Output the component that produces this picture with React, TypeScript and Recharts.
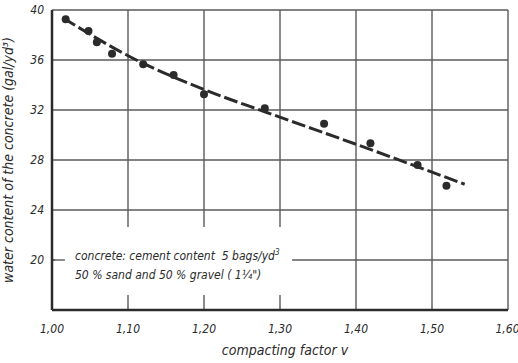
import {
  ComposedChart,
  XAxis,
  YAxis,
  CartesianGrid,
  Scatter,
  Line,
  ReferenceArea,
  ReferenceLine,
} from "recharts";

// measured points
const compactingFactor = [1.018, 1.048, 1.059, 1.079, 1.12, 1.16, 1.2, 1.28, 1.358, 1.419, 1.481, 1.519];
const waterContent = [39.26, 38.32, 37.42, 36.5, 35.66, 34.8, 33.26, 32.14, 30.9, 29.34, 27.6, 25.94];

// fitted curve
const fitFactor = [1.0145, 1.111, 1.2, 1.28, 1.405, 1.543];
const fitWater = [39.36, 36.0, 33.64, 31.86, 29.15, 26.06];

const xTicks = [1.0, 1.1, 1.2, 1.3, 1.4, 1.5, 1.6];
const yTicks = [20, 24, 28, 32, 36, 40];

const points = compactingFactor.map((v, i) => ({ v, w: waterContent[i] }));
const fit = fitFactor.map((v, i) => ({ v, w: fitWater[i] }));

const FONT = "'Liberation Sans Narrow', 'DejaVu Sans Condensed', 'DejaVu Sans', sans-serif";
const INK = "#2b2b2b";
const GRID = "#5a5a5a";

const tickStyle = { fill: INK, fontSize: 12, fontStyle: "italic", fontFamily: FONT };

const Dot = (props: any) => <circle cx={props.cx} cy={props.cy} r={4} fill={INK} />;

export default function App() {
  return (
    <div style={{ position: "absolute", left: 0, top: 0, width: 518, height: 363, background: "#fff" }}>
      <ComposedChart width={518} height={363} margin={{ top: 10, right: 10, left: 0, bottom: 0 }}>
        <CartesianGrid stroke={GRID} strokeWidth={1.4} />
        <ReferenceArea
          x1={1.004}
          x2={1.316}
          y1={17.2}
          y2={22.64}
          fill="#fff"
          fillOpacity={1}
          stroke="none"
        />
        <ReferenceLine
          segment={[{ x: 1.0, y: 20 }, { x: 1.017, y: 20 }]}
          stroke={GRID}
          strokeWidth={1.4}
        />
        <XAxis
          type="number"
          dataKey="v"
          domain={[1.0, 1.6]}
          ticks={xTicks}
          allowDataOverflow
          tickFormatter={(t: number) => t.toFixed(2).replace(".", ",")}
          tick={tickStyle}
          tickLine={false}
          axisLine={{ stroke: INK, strokeWidth: 2.5 }}
          height={53}
          tickMargin={8}
          label={{
            value: "compacting factor v",
            position: "insideBottom",
            offset: 8,
            style: { fill: INK, fontSize: 14, fontStyle: "italic", fontFamily: FONT, textAnchor: "middle" },
            dx: 5,
          }}
        />
        <YAxis
          type="number"
          dataKey="w"
          domain={[16, 40]}
          ticks={yTicks}
          tick={tickStyle}
          tickLine={false}
          axisLine={{ stroke: INK, strokeWidth: 2.5 }}
          width={52}
          label={{
            value: "water content of the concrete (gal/yd³)",
            angle: -90,
            position: "insideLeft",
            offset: 8,
            style: { fill: INK, fontSize: 14, fontStyle: "italic", fontFamily: FONT, textAnchor: "middle" },
          }}
        />
        <Line
          data={fit}
          dataKey="w"
          type="monotone"
          stroke={INK}
          strokeWidth={3}
          strokeDasharray="14 4"
          dot={false}
          activeDot={false}
          isAnimationActive={false}
        />
        <Scatter data={points} dataKey="w" shape={Dot} isAnimationActive={false} />
      </ComposedChart>
      <div
        style={{
          position: "absolute",
          left: 75,
          top: 243,
          fontFamily: FONT,
          fontStyle: "italic",
          fontSize: 12,
          lineHeight: "19px",
          color: INK,
          whiteSpace: "pre",
        }}
      >
        <div>
          concrete: cement content  5 bags/yd<sup style={{ fontSize: 8 }}>3</sup>
        </div>
        <div>50 % sand and 50 % gravel ( 1¼")</div>
      </div>
    </div>
  );
}
